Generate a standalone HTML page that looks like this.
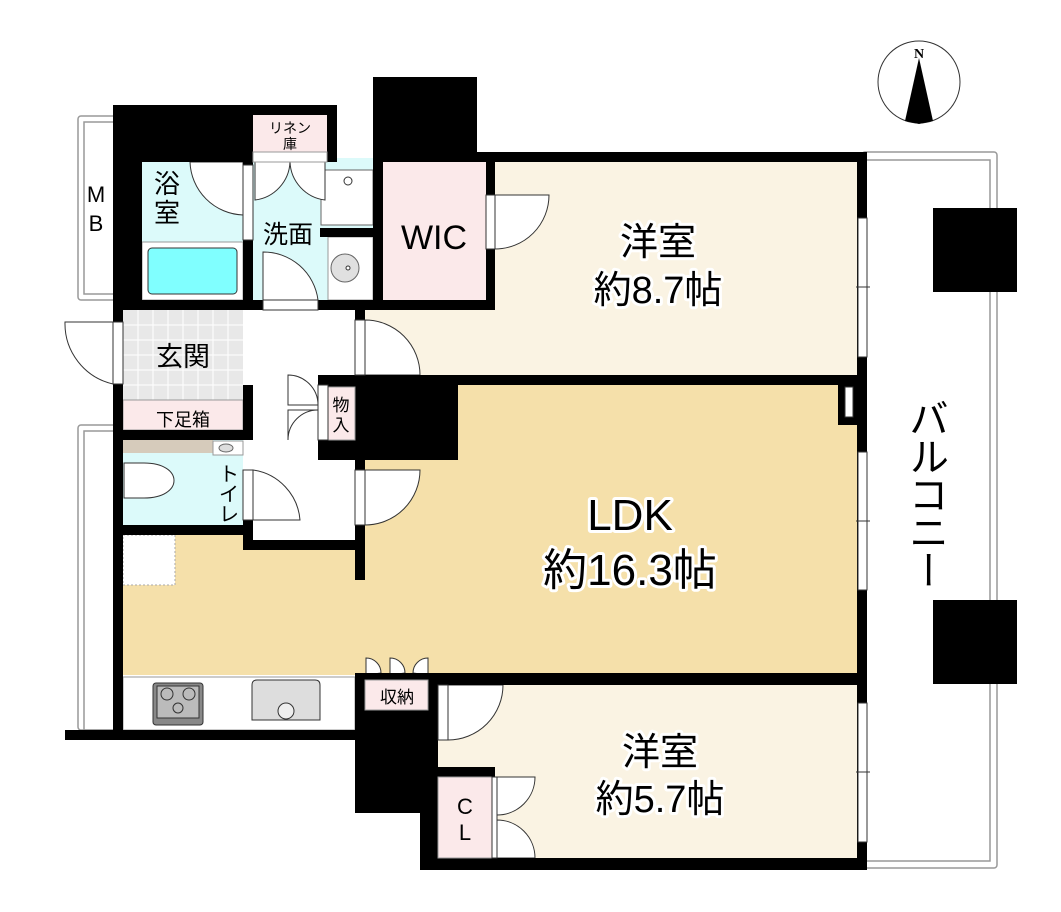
<!DOCTYPE html>
<html><head><meta charset="utf-8"><style>
html,body{margin:0;padding:0;background:#fff}
svg{display:block}
text{font-family:"Liberation Sans","Noto Sans CJK JP",sans-serif;fill:#000}
.lbl{stroke:#fff;stroke-width:6;paint-order:stroke;stroke-linejoin:round}
#balc{position:absolute;left:905px;top:398px;writing-mode:vertical-rl;font-family:"Noto Sans CJK JP",sans-serif;font-size:40px;line-height:48px;letter-spacing:-2px}
</style></head><body>
<svg width="1061" height="912" viewBox="0 0 1061 912" xmlns="http://www.w3.org/2000/svg">
<rect x="862" y="152" width="135" height="716" rx="3" fill="#fff" stroke="#999" stroke-width="1.5"/>
<rect x="862" y="160" width="128" height="701" fill="none" stroke="#999" stroke-width="1.5"/>
<rect x="933" y="208" width="84" height="84" fill="#000"/>
<rect x="933" y="600" width="84" height="84" fill="#000"/>
<rect x="78" y="116" width="40" height="184" rx="3" fill="#fff" stroke="#999" stroke-width="1.5"/>
<rect x="84" y="122" width="34" height="172" fill="none" stroke="#999" stroke-width="1.5"/>
<rect x="78" y="425" width="40" height="305" rx="3" fill="#fff" stroke="#999" stroke-width="1.5"/>
<rect x="84" y="431" width="34" height="299" fill="none" stroke="#999" stroke-width="1.5"/>
<rect x="495" y="162" width="362" height="213" fill="#faf3e3"/>
<rect x="365" y="310" width="492" height="65" fill="#faf3e3"/>
<rect x="365" y="385" width="492" height="290" fill="#f5e0aa"/>
<rect x="123" y="535" width="734" height="140" fill="#f5e0aa"/>
<rect x="438" y="685" width="419" height="173" fill="#faf3e3"/>
<rect x="142" y="162" width="101" height="138" fill="#dcfafa"/>
<rect x="253" y="158" width="120" height="142" fill="#dcfafa"/>
<rect x="383" y="162" width="103" height="138" fill="#fbe9ea"/>
<rect x="253" y="310" width="102" height="235" fill="#fff"/>
<rect x="123" y="310" width="120" height="90" fill="#e8e8e8"/>
<g stroke="#fff" stroke-width="1">
<line x1="138" y1="310" x2="138" y2="400"/><line x1="153" y1="310" x2="153" y2="400"/><line x1="168" y1="310" x2="168" y2="400"/><line x1="183" y1="310" x2="183" y2="400"/><line x1="198" y1="310" x2="198" y2="400"/><line x1="213" y1="310" x2="213" y2="400"/><line x1="228" y1="310" x2="228" y2="400"/>
<line x1="123" y1="325" x2="243" y2="325"/><line x1="123" y1="340" x2="243" y2="340"/><line x1="123" y1="355" x2="243" y2="355"/><line x1="123" y1="370" x2="243" y2="370"/><line x1="123" y1="385" x2="243" y2="385"/>
</g>
<rect x="123" y="400" width="120" height="30" fill="#fbe9ea" stroke="#999"/>
<rect x="123" y="440" width="120" height="85" fill="#dcfafa"/>
<rect x="123" y="440" width="90" height="13" fill="#d6cbbb"/>
<rect x="213" y="441" width="30" height="14" fill="#fff" stroke="#999"/>
<ellipse cx="226" cy="448" rx="7" ry="4" fill="#ddd" stroke="#666"/>
<rect x="123" y="535" width="52" height="50" fill="#fff" stroke="#aaa" stroke-dasharray="2,2"/>
<rect x="123" y="677" width="232" height="53" fill="#fff" stroke="#999"/>
<rect x="253" y="115" width="74" height="37" fill="#fbe9ea"/>
<rect x="142" y="242" width="101" height="58" fill="#fff" stroke="#999"/>
<rect x="148" y="248" width="89" height="46" rx="4" fill="#80ffff" stroke="#333"/>
<rect x="321" y="170" width="52" height="55" fill="#fff" stroke="#666"/>
<circle cx="348" cy="181" r="4" fill="#fff" stroke="#333"/>
<rect x="328" y="237" width="45" height="63" fill="#fff" stroke="#999"/>
<circle cx="345" cy="268" r="14" fill="#e0e0e0" stroke="#666"/>
<circle cx="348" cy="268" r="2" fill="#fff" stroke="#333"/>
<path d="M124 463 h20 c40 0 40 35 0 35 h-20 z" fill="#fff" stroke="#333"/>
<rect x="153" y="683" width="50" height="42" rx="3" fill="#888" stroke="#333"/>
<rect x="157" y="686" width="42" height="32" fill="#bbb" stroke="#333"/>
<circle cx="167" cy="694" r="6" fill="none" stroke="#333"/><circle cx="189" cy="694" r="6" fill="none" stroke="#333"/><circle cx="178" cy="708" r="5" fill="none" stroke="#333"/>
<path d="M252 685 q0-5 5-5 h58 q5 0 5 5 v35 h-68 z" fill="#ddd" stroke="#333"/>
<circle cx="286" cy="711" r="8" fill="#eee" stroke="#333"/>
<g fill="#fff" stroke="#333" stroke-width="1">
<path d="M190 162 A55 55 0 0 0 243 215 L243 162 Z"/>
<path d="M255 200 A40 40 0 0 0 290 162 L255 162 Z"/>
<path d="M325 200 A40 40 0 0 1 290 162 L325 162 Z"/>
<path d="M263 252 A55 55 0 0 1 318 300 L263 300 Z"/>
<path d="M495 195 L549 195 A54 54 0 0 1 495 249 Z"/>
<path d="M365 320 A55 55 0 0 1 420 375 L365 375 Z"/>
<path d="M318 405 A30 30 0 0 0 288 375 L288 405 Z"/>
<path d="M318 410 A30 30 0 0 0 288 440 L288 410 Z"/>
<path d="M253 470 A55 55 0 0 1 300 520 L253 520 Z"/>
<path d="M365 470 L420 470 A55 55 0 0 1 365 525 Z"/>
<path d="M65 322 L113 322 L113 384 A62 62 0 0 1 65 322 Z"/>
<path d="M366 675 L366 658 A15 15 0 0 1 381 673 Z"/><path d="M390 675 L390 658 A15 15 0 0 1 405 673 Z"/><path d="M428 675 L428 658 A15 15 0 0 0 413 673 Z"/>
<path d="M448 685 L503 685 A55 55 0 0 1 448 740 Z"/>
<path d="M497 777 L535 777 A38 38 0 0 1 497 815 Z"/>
<path d="M497 858 L535 858 A38 38 0 0 0 497 820 Z"/>
</g>
<g fill="#000">
<rect x="113" y="105" width="140" height="57"/>
<rect x="253" y="105" width="84" height="10"/>
<rect x="327" y="105" width="10" height="57"/>
<rect x="373" y="77" width="104" height="85"/>
<rect x="477" y="152" width="390" height="10"/>
<rect x="113" y="105" width="10" height="217"/>
<rect x="113" y="162" width="29" height="138"/>
<rect x="243" y="162" width="10" height="148"/>
<rect x="373" y="152" width="10" height="158"/>
<rect x="486" y="152" width="9" height="158"/>
<rect x="320" y="228" width="53" height="9"/>
<rect x="113" y="300" width="150" height="10"/><rect x="318" y="300" width="177" height="10"/>
<rect x="857" y="152" width="10" height="718"/>
<rect x="355" y="310" width="10" height="10"/>
<rect x="318" y="375" width="549" height="10"/>
<rect x="318" y="375" width="140" height="85"/>
<rect x="838" y="385" width="19" height="40"/>
<rect x="113" y="384" width="10" height="350"/>
<rect x="243" y="385" width="10" height="53"/>
<rect x="113" y="430" width="140" height="10"/>
<rect x="243" y="520" width="10" height="30"/>
<rect x="113" y="525" width="140" height="10"/>
<rect x="243" y="540" width="122" height="10"/>
<rect x="355" y="460" width="10" height="120"/>
<rect x="65" y="730" width="295" height="10"/>
<rect x="355" y="673" width="512" height="12"/>
<rect x="355" y="673" width="83" height="140"/>
<rect x="420" y="673" width="18" height="197"/>
<rect x="438" y="767" width="57" height="10"/>
<rect x="420" y="858" width="447" height="12"/>
</g>
<rect x="845" y="387" width="8" height="30" fill="#fff" stroke="#333"/>
<rect x="365" y="680" width="63" height="30" fill="#fbe9ea" stroke="#999"/>
<rect x="438" y="777" width="54" height="81" fill="#fbe9ea" stroke="#999"/>
<rect x="328" y="387" width="27" height="53" fill="#fbe9ea" stroke="#999"/>
<rect x="253" y="152" width="74" height="10" fill="#fff" stroke="#999"/>
<g fill="#fff" stroke="#333" stroke-width="1">
<rect x="243" y="165" width="10" height="75"/>
<rect x="263" y="300" width="55" height="10"/>
<rect x="486" y="195" width="9" height="54"/>
<rect x="355" y="320" width="10" height="55"/>
<rect x="318" y="385" width="10" height="55"/>
<rect x="243" y="470" width="10" height="50"/>
<rect x="355" y="470" width="10" height="55"/>
<rect x="113" y="322" width="10" height="62"/>
<rect x="438" y="685" width="10" height="55"/>
<rect x="492" y="777" width="5" height="81"/>
<rect x="858" y="218" width="9" height="139"/>
<rect x="858" y="452" width="9" height="138"/>
<rect x="858" y="703" width="9" height="139"/>
</g>
<g stroke="#333"><line x1="856" y1="287" x2="870" y2="287"/><line x1="856" y1="521" x2="870" y2="521"/><line x1="856" y1="772" x2="870" y2="772"/></g>
<circle cx="919" cy="82" r="41" fill="#fff" stroke="#333"/>
<polygon points="919,58 905,121 919,124 933,121" fill="#000"/>
<text x="919" y="58" font-size="14" font-weight="bold" text-anchor="middle" style="font-family:'Liberation Serif',serif">N</text>
<text class="lbl" x="658" y="255" font-size="38" text-anchor="middle">洋室</text>
<text class="lbl" x="658" y="303" font-size="38" text-anchor="middle">約8.7帖</text>
<text class="lbl" x="630" y="530" font-size="44" text-anchor="middle">LDK</text>
<text class="lbl" x="630" y="585" font-size="44" text-anchor="middle">約16.3帖</text>
<text class="lbl" x="660" y="765" font-size="38" text-anchor="middle">洋室</text>
<text class="lbl" x="660" y="812" font-size="38" text-anchor="middle">約5.7帖</text>
<text x="434" y="249" font-size="34" text-anchor="middle">WIC</text>
<text x="167" y="193" font-size="26" text-anchor="middle">浴</text>
<text x="167" y="222" font-size="26" text-anchor="middle">室</text>
<text x="288" y="243" font-size="25" text-anchor="middle">洗面</text>
<text x="290" y="133" font-size="14" text-anchor="middle">リネン</text>
<text x="290" y="149" font-size="14" text-anchor="middle">庫</text>
<text x="183" y="366" font-size="27" text-anchor="middle">玄関</text>
<text x="183" y="426" font-size="18" text-anchor="middle">下足箱</text>
<text x="229" y="481" font-size="20" text-anchor="middle">ト</text>
<text x="229" y="501" font-size="20" text-anchor="middle">イ</text>
<text x="229" y="521" font-size="20" text-anchor="middle">レ</text>
<text x="341" y="411" font-size="17" text-anchor="middle">物</text>
<text x="341" y="431" font-size="17" text-anchor="middle">入</text>
<text x="397" y="703" font-size="17" text-anchor="middle">収納</text>
<text x="465" y="814" font-size="22" text-anchor="middle">C</text>
<text x="465" y="840" font-size="22" text-anchor="middle">L</text>
<text x="96" y="202" font-size="22" text-anchor="middle">M</text>
<text x="96" y="231" font-size="22" text-anchor="middle">B</text>
</svg>
<div id="balc">バルコニー</div>
</body></html>
